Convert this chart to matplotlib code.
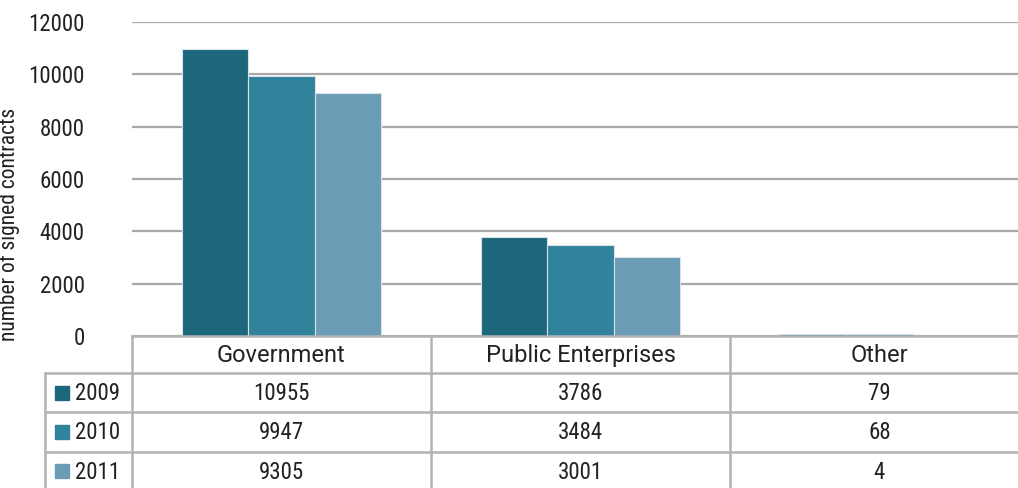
import matplotlib
matplotlib.use("Agg")
import matplotlib.pyplot as plt
import numpy as np

categories = ["Government", "Public Enterprises", "Other"]
years = ["2009", "2010", "2011"]
v2009 = [10955, 3786, 79]
v2010 = [9947, 3484, 68]
v2011 = [9305, 3001, 4]
series = [v2009, v2010, v2011]
colors = ["#1d677c", "#31829b", "#6b9bb5"]
yticks = [0, 2000, 4000, 6000, 8000, 10000, 12000]

NARROW = ['Roboto Condensed', 'Archivo Narrow', 'DejaVu Sans']
WIDE = ['Roboto', 'DejaVu Sans']
plt.rcParams['font.family'] = NARROW

W, H = 1018, 488
fig = plt.figure(figsize=(W / 100, H / 100), dpi=100)

ax_l, ax_r, ax_b, ax_t = 132, 1029, 336, 22
ax = fig.add_axes([ax_l / W, (H - ax_b) / H, (ax_r - ax_l) / W, (ax_b - ax_t) / H])
n = len(categories)
x = np.arange(n)
bw = 0.222
for i, (vals, c) in enumerate(zip(series, colors)):
    ax.bar(x + (i - 1) * bw, vals, width=bw, color=c, edgecolor="#d6e4ea", linewidth=0.8, zorder=3)
ax.set_xlim(-0.5, n - 0.5)
ax.set_ylim(0, 12000)
ax.set_yticks(yticks)
ax.set_yticklabels([str(t) for t in yticks], fontsize=16.5, color="#222222")
ax.tick_params(axis='y', length=0, pad=34)
ax.set_xticks([])
ax.yaxis.grid(True, color="#a9a9ab", linewidth=1.6, zorder=0)
for s in ax.spines.values():
    s.set_visible(False)
ax.set_ylabel("number of signed contracts", fontsize=15.5, color="#222222")
ax.yaxis.set_label_coords((20 - ax_l) / (ax_r - ax_l), (ax_b - 224) / (ax_b - ax_t))

# Table
tab = fig.add_axes([0, 0, 1, 1])
tab.set_xlim(0, W)
tab.set_ylim(H, 0)
tab.axis('off')
lc = "#b3b3b5"
lw = 1.8
colw = (ax_r - ax_l) / n
header_bottom = 373
row_h = 39.3
label_left = 45
rows_y = [header_bottom + k * row_h for k in range(len(years) + 1)]
tab.plot([ax_l, ax_r], [ax_b, ax_b], color=lc, lw=lw)
for yy in rows_y[:-1]:
    tab.plot([label_left, ax_r], [yy, yy], color=lc, lw=lw)
tab.plot([label_left, label_left], [header_bottom, H], color=lc, lw=lw)
for k in range(n):
    xx = ax_l + k * colw
    tab.plot([xx, xx], [ax_b, H], color=lc, lw=lw)
for k, cat in enumerate(categories):
    tab.text(ax_l + (k + 0.5) * colw, (ax_b + header_bottom) / 2 + 1, cat,
             ha='center', va='center', fontsize=17, color="#222222", family=WIDE)
for r, (yr, vals, c) in enumerate(zip(years, series, colors)):
    yc = rows_y[r] + row_h / 2
    tab.add_patch(plt.Rectangle((55, yc - 7), 14, 14, color=c))
    tab.text(75, yc + 1, yr, ha='left', va='center', fontsize=16.5, color="#222222")
    for k, v in enumerate(vals):
        tab.text(ax_l + (k + 0.5) * colw, yc + 1, str(v), ha='center', va='center',
                 fontsize=16.5, color="#222222")

fig.savefig("out.png", dpi=100)
